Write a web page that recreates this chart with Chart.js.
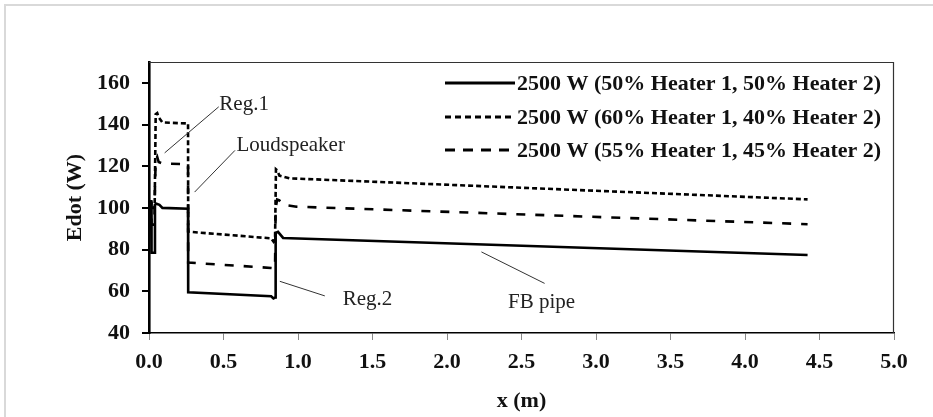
<!DOCTYPE html>
<html>
<head>
<meta charset="utf-8">
<script src="https://cdn.jsdelivr.net/npm/chart.js@4.4.1/dist/chart.umd.min.js"></script>
<style>
  html, body { margin: 0; padding: 0; background: #fff; }
  #wrap { position: relative; width: 933px; height: 417px; overflow: hidden; }
  #frame { position: absolute; left: 4px; top: 4px; right: -10px; bottom: -10px;
           border-top: 2px solid #d9d9d9; border-left: 2px solid #d9d9d9; }
  canvas { position: absolute; left: 0; top: 0; }
</style>
</head>
<body>
<div id="wrap"><div id="frame"></div><canvas id="c" width="933" height="417"></canvas></div>
<script>
// Edot along the rig, three heater splits at 2500 W

const seriesLabels = [
  '2500 W (50% Heater 1, 50% Heater 2)',
  '2500 W (60% Heater 1, 40% Heater 2)',
  '2500 W (55% Heater 1, 45% Heater 2)'
];

// 50% / 50% (solid)
const x5050 = [0, 0.014, 0.017, 0.036, 0.040, 0.050, 0.070, 0.090, 0.262, 0.263, 0.820, 0.835, 0.846, 0.850, 0.866, 0.900, 4.42];
const y5050 = [103, 103, 78.5, 78.5, 101.5, 102, 101.5, 100, 99.6, 59.5, 57.6, 56.6, 57, 88, 88.5, 85.6, 77.4];

// 60% / 40% (dotted)
const x6040 = [0, 0.014, 0.020, 0.038, 0.045, 0.055, 0.065, 0.090, 0.262, 0.263, 0.820, 0.836, 0.846, 0.852, 0.860, 0.875, 0.944, 4.42];
const y6040 = [103, 103, 100, 100, 145, 145.5, 143.5, 141, 140.5, 88.6, 85.4, 83.8, 85, 118.5, 118, 115.5, 114.2, 104.1];

// 55% / 45% (dashed)
const x5545 = [0, 0.014, 0.017, 0.036, 0.040, 0.045, 0.055, 0.065, 0.090, 0.262, 0.263, 0.820, 0.846, 0.850, 0.860, 0.875, 0.900, 0.990, 4.42];
const y5545 = [103, 103, 92, 92, 110, 123, 124.5, 122, 121.3, 121, 73.8, 71.2, 71, 100, 104, 103.6, 101.5, 100.6, 92.2];

const xTicks = [0, 0.5, 1, 1.5, 2, 2.5, 3, 3.5, 4, 4.5, 5];
const yTicks = [40, 60, 80, 100, 120, 140, 160];

// callouts, in data units: text anchor and leader line
const notes = [
  { text: 'Reg.1', tx: 0.472, ty: 149.5, x1: 0.468, y1: 148.5, x2: 0.105, y2: 126.4 },
  { text: 'Loudspeaker', tx: 0.587, ty: 130, x1: 0.577, y1: 127.6, x2: 0.306, y2: 107.6 },
  { text: 'Reg.2', tx: 1.3, ty: 56, x1: 0.878, y1: 64.8, x2: 1.18, y2: 57.8 },
  { text: 'FB pipe', tx: 2.41, ty: 54.8, x1: 2.231, y1: 78.9, x2: 2.655, y2: 63.8 }
];

const pts = (xs, ys) => xs.map((x, i) => ({ x: x, y: ys[i] }));

const serif = 'Liberation Serif, Times New Roman, serif';
Chart.defaults.font.family = serif;
Chart.defaults.color = '#111';

// box lines, legend and callouts
const decor = {
  id: 'decor',
  afterDraw(chart) {
    const { ctx, chartArea: a, scales: { x, y } } = chart;
    ctx.save();

    // top + right frame of the plot
    ctx.strokeStyle = '#333';
    ctx.lineWidth = 1.2;
    ctx.beginPath();
    ctx.moveTo(a.left, a.top + 0.5);
    ctx.lineTo(a.right - 0.5, a.top + 0.5);
    ctx.lineTo(a.right - 0.5, a.bottom);
    ctx.stroke();

    // legend
    const rowY = [a.top + 21, a.top + 55, a.top + 88];
    const sampleDash = [[], [6, 4], [10, 8]];
    ctx.font = 'bold 22px ' + serif;
    ctx.textBaseline = 'middle';
    ctx.textAlign = 'left';
    chart.data.datasets.forEach((ds, i) => {
      ctx.strokeStyle = '#000';
      ctx.lineWidth = 2.8;
      ctx.setLineDash(sampleDash[i]);
      ctx.beginPath();
      ctx.moveTo(445, rowY[i]);
      ctx.lineTo(515, rowY[i]);
      ctx.stroke();
      ctx.setLineDash([]);
      ctx.fillStyle = '#111';
      ctx.fillText(ds.label, 517, rowY[i] + 1);
    });

    // callouts
    ctx.font = '21px ' + serif;
    ctx.strokeStyle = '#333';
    ctx.lineWidth = 1;
    notes.forEach(n => {
      ctx.beginPath();
      ctx.moveTo(x.getPixelForValue(n.x1), y.getPixelForValue(n.y1));
      ctx.lineTo(x.getPixelForValue(n.x2), y.getPixelForValue(n.y2));
      ctx.stroke();
      ctx.fillStyle = '#222';
      ctx.fillText(n.text, x.getPixelForValue(n.tx), y.getPixelForValue(n.ty));
    });
    ctx.restore();
  }
};

new Chart(document.getElementById('c'), {
  type: 'line',
  data: {
    datasets: [
      { label: seriesLabels[0], data: pts(x5050, y5050), borderColor: '#000', borderWidth: 2.6, borderDash: [] },
      { label: seriesLabels[1], data: pts(x6040, y6040), borderColor: '#000', borderWidth: 2.6, borderDash: [5, 3] },
      { label: seriesLabels[2], data: pts(x5545, y5545), borderColor: '#000', borderWidth: 2.6, borderDash: [9, 10] }
    ]
  },
  options: {
    responsive: false,
    animation: false,
    devicePixelRatio: 1,
    elements: { point: { radius: 0 }, line: { tension: 0 } },
    layout: { padding: { left: 0, top: 62, right: 39, bottom: 0 } },
    plugins: { legend: { display: false }, tooltip: { enabled: false } },
    scales: {
      x: {
        type: 'linear',
        min: 0, max: 5,
        afterFit: s => { s.height = 84; },
        afterBuildTicks: s => { s.ticks = xTicks.map(v => ({ value: v })); },
        grid: { display: true, drawOnChartArea: false, drawTicks: true, tickLength: 7, tickColor: '#888', lineWidth: 1 },
        border: { display: true, color: '#000', width: 1.6 },
        ticks: {
          autoSkip: false, maxRotation: 0, padding: 9,
          color: '#111',
          font: { size: 22, weight: 'bold' },
          callback: v => v.toFixed(1)
        },
        title: {
          display: true, text: 'x (m)', color: '#111',
          font: { size: 22, weight: 'bold' },
          padding: { top: 0, bottom: 2 }
        }
      },
      y: {
        min: 40, max: 170,
        afterFit: s => { s.width = 149; },
        afterBuildTicks: s => { s.ticks = yTicks.map(v => ({ value: v })); },
        grid: { display: true, drawOnChartArea: false, drawTicks: true, tickLength: 7, tickColor: '#000', lineWidth: 2 },
        border: { display: true, color: '#000', width: 2.6 },
        ticks: {
          padding: 12, color: '#111',
          font: { size: 22, weight: 'bold' },
          callback: v => String(v)
        },
        title: {
          display: true, text: 'Edot (W)', color: '#111',
          font: { size: 22, weight: 'bold' },
          padding: { top: 62, bottom: 0 }
        }
      }
    }
  },
  plugins: [decor]
});
</script>
</body>
</html>
